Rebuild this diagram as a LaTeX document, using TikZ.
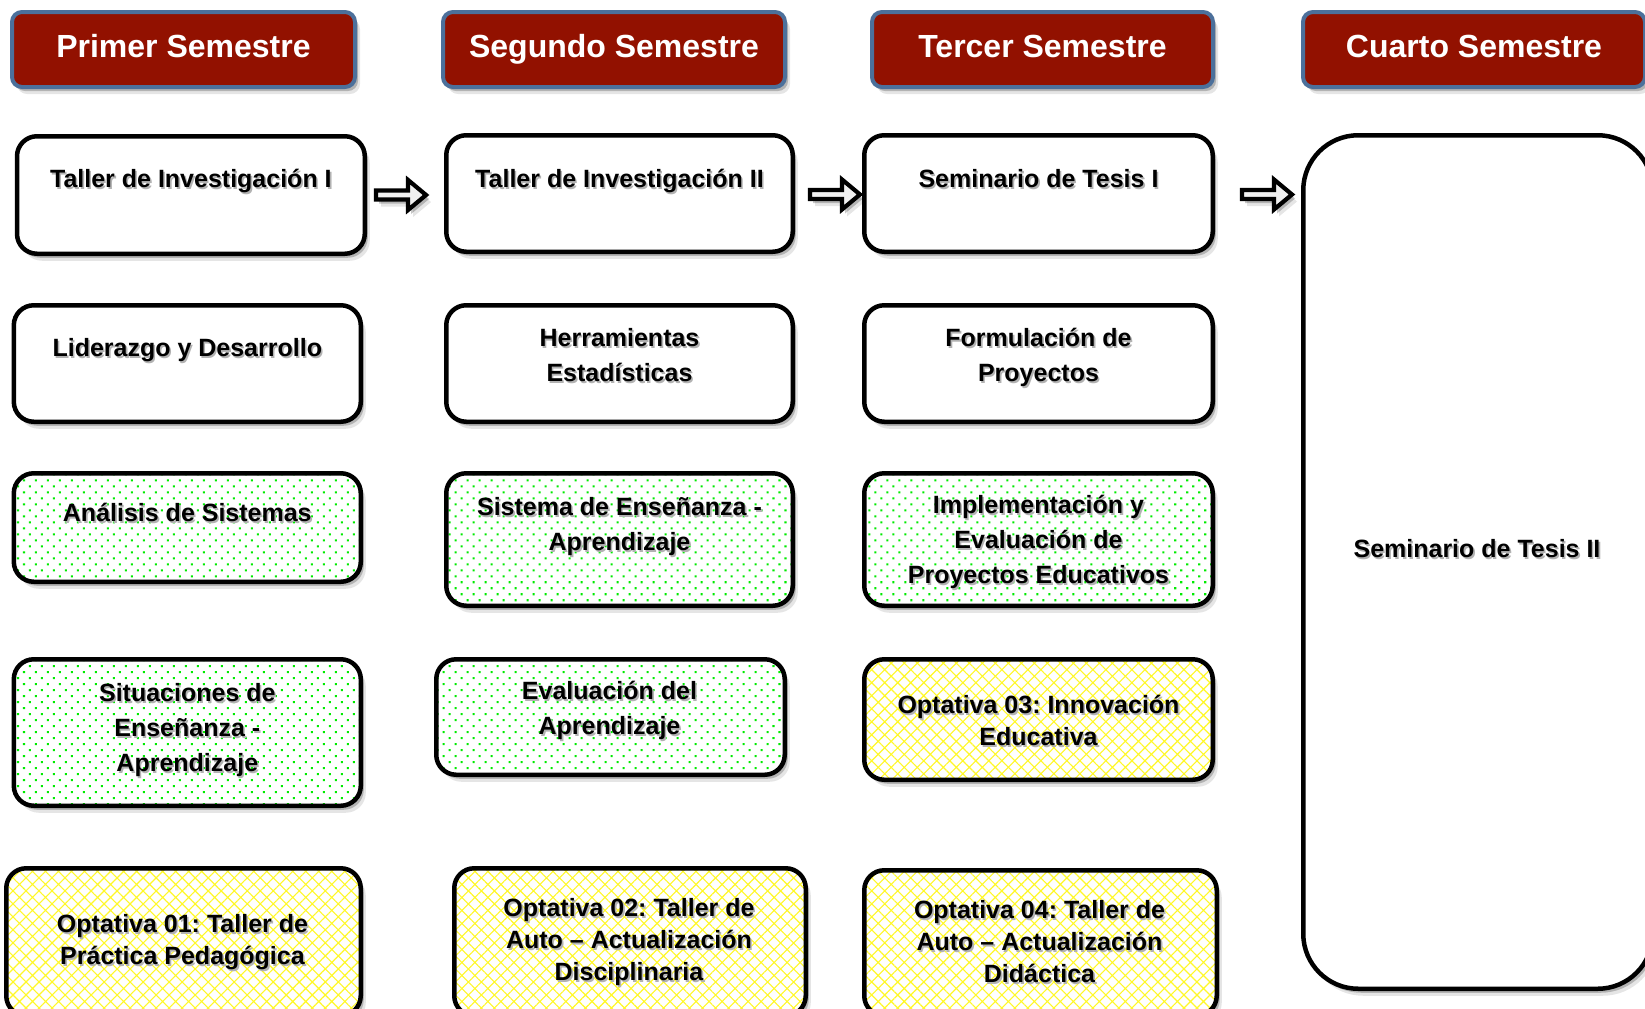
\documentclass[tikz,border=0pt]{standalone}
\usepackage{fontspec}
\setmainfont{Liberation Sans}
\usetikzlibrary{calc,shadows,patterns.meta}
\frenchspacing
\definecolor{hdrred}{RGB}{146,17,0}
\definecolor{hdrblue}{RGB}{76,112,155}
\definecolor{dotgreen}{RGB}{0,235,0}
\definecolor{hatchyellow}{RGB}{255,248,40}
\newcommand\ts[1]{\leavevmode\rlap{\kern0.8pt\raisebox{-1pt}{\textcolor{black!30}{#1}}}#1}
\newcommand\blockarrow[1]{\draw[barrow] (#1) ++(0,-4.5) -- ++(32,0) -- ++(0,-10.5) -- ++(18,15) -- ++(-18,15) -- ++(0,-10.5) -- ++(-32,0) -- cycle;}
\tikzset{
  shdw/.style={drop shadow={shadow xshift=1.5pt, shadow yshift=-2pt, fill=black, opacity=0.22},
               drop shadow={shadow xshift=2.5pt, shadow yshift=-3.5pt, fill=black, opacity=0.10}},
  hdr/.style={draw=hdrblue, line width=2pt, fill=hdrred, rounded corners=5pt, text=white,
              font=\fontsize{16}{19}\selectfont\bfseries, inner sep=0pt, minimum height=37.5pt,
              text height=11.5pt, text depth=3.5pt, shdw},
  cbox/.style={draw=black, line width=2.25pt, rounded corners=10pt, inner sep=0pt, shdw, preaction={fill=white}},
  dotbox/.style={cbox, preaction={pattern={Dots[distance=4.24pt, angle=45, radius=0.72pt]}, pattern color=dotgreen}},
  hatchbox/.style={cbox, preaction={pattern={Hatch[angle=45, distance=4.6pt, line width=0.55pt]}, pattern color=hatchyellow}},
  lbl/.style={align=center, font=\fontsize{12.5}{17.5}\selectfont\bfseries, inner sep=0pt},
  lbly/.style={align=center, font=\fontsize{12.5}{16}\selectfont\bfseries, inner sep=0pt},
  barrow/.style={draw=black, line width=2.1pt, fill=gray!12, line join=miter, shdw},
}
\begin{document}
\begin{tikzpicture}[x=0.5pt, y=-0.5pt]
\useasboundingbox (0,0) rectangle (1645,1008);
\clip (0,0) rectangle (1645,1008);

% headers
\node[hdr, minimum width=171.5pt] (h1) at (183.5,49.5) {Primer Semestre};
\node[hdr, minimum width=171pt] (h2) at (614,49.5) {Segundo Semestre};
\node[hdr, minimum width=170.5pt] (h3) at (1042.5,49.5) {Tercer Semestre};
\node[hdr, minimum width=171pt] (h4) at (1474,49.5) {Cuarto Semestre};

% row 1
\node[cbox, minimum width=173.9pt, minimum height=58.75pt] (c1r1) at (190.9,195) {};
\node[lbl] (c1r1t) at (190.9,182) {\ts{Taller de Investigación I}};
\node[cbox, minimum width=173.25pt, minimum height=58.25pt] (c2r1) at (619.5,193.5) {};
\node[lbl] (c2r1t) at (619.5,182) {\ts{Taller de Investigación II}};
\node[cbox, minimum width=174.25pt, minimum height=58.25pt] (c3r1) at (1038.5,193.5) {};
\node[lbl] (c3r1t) at (1038.5,180) {\ts{Seminario de Tesis I}};
\node[cbox, rounded corners=27.5pt, minimum width=174.75pt, minimum height=426.75pt] (c4) at (1478,562) {};
\node[lbl] (c4t) at (1477,550) {\ts{Seminario de Tesis II}};

% arrows
\coordinate (a1) at ($(c1r1.east)+(9,0)$);
\coordinate (a2) at ($(c2r1.east)+(15,1)$);
\coordinate (a3) at ($(c3r1.east)+(27,1)$);
\blockarrow{a1}
\blockarrow{a2}
\blockarrow{a3}

% row 2
\node[cbox, minimum width=173.5pt, minimum height=58.25pt] (c1r2) at (187.3,363.5) {};
\node[lbl] (c1r2t) at (187.3,351) {\ts{Liderazgo y Desarrollo}};
\node[cbox, minimum width=173.25pt, minimum height=58.25pt] (c2r2) at (619.5,363.5) {};
\node[lbl] (c2r2t) at (619.5,356.5) {\ts{Herramientas}\\\ts{Estadísticas}};
\node[cbox, minimum width=174.25pt, minimum height=58.25pt] (c3r2) at (1038.5,363.5) {};
\node[lbl] (c3r2t) at (1038.5,358) {\ts{Formulación de}\\\ts{Proyectos}};

% row 3
\node[dotbox, minimum width=173.5pt, minimum height=54.25pt] (c1r3) at (187.3,527.5) {};
\node[lbl] (c1r3t) at (187.3,513) {\ts{Análisis de Sistemas}};
\node[dotbox, minimum width=173.25pt, minimum height=66.25pt] (c2r3) at (619.5,539.5) {};
\node[lbl] (c2r3t) at (619.5,528) {\ts{Sistema de Enseñanza -}\\\ts{Aprendizaje}};
\node[dotbox, minimum width=174.25pt, minimum height=66.25pt] (c3r3) at (1038.5,539.5) {};
\node[lbl] (c3r3t) at (1038.5,543) {\ts{Implementación y}\\\ts{Evaluación de}\\\ts{Proyectos Educativos}};

% row 4
\node[dotbox, minimum width=173.5pt, minimum height=73.25pt] (c1r4) at (187.3,732.5) {};
\node[lbl] (c1r4t) at (187.3,731) {\ts{Situaciones de}\\\ts{Enseñanza -}\\\ts{Aprendizaje}};
\node[dotbox, minimum width=174.25pt, minimum height=57.75pt] (c2r4) at (610.5,717) {};
\node[lbl] (c2r4t) at (609.5,711.5) {\ts{Evaluación del}\\\ts{Aprendizaje}};
\node[hatchbox, minimum width=174.25pt, minimum height=60.25pt] (c3r4) at (1038.5,719.5) {};
\node[lbly] (c3r4t) at (1038.5,721.5) {\ts{Optativa 03: Innovación}\\\ts{Educativa}};

% row 5
\node[hatchbox, minimum width=177.25pt, minimum height=73.75pt] (c1r5) at (183.5,942) {};
\node[lbly] (c1r5t) at (182.5,943) {\ts{Optativa 01: Taller de}\\\ts{Práctica Pedagógica}};
\node[hatchbox, minimum width=175.75pt, minimum height=73.75pt] (c2r5) at (630,942) {};
\node[lbly] (c2r5t) at (629,943) {\ts{Optativa 02: Taller de}\\\ts{Auto – Actualización}\\\ts{Disciplinaria}};
\node[hatchbox, minimum width=176.25pt, minimum height=72.75pt] (c3r5) at (1040.5,943) {};
\node[lbly] (c3r5t) at (1039.5,942.5) {\ts{Optativa 04: Taller de}\\\ts{Auto – Actualización}\\\ts{Didáctica}};
\end{tikzpicture}
\end{document}
